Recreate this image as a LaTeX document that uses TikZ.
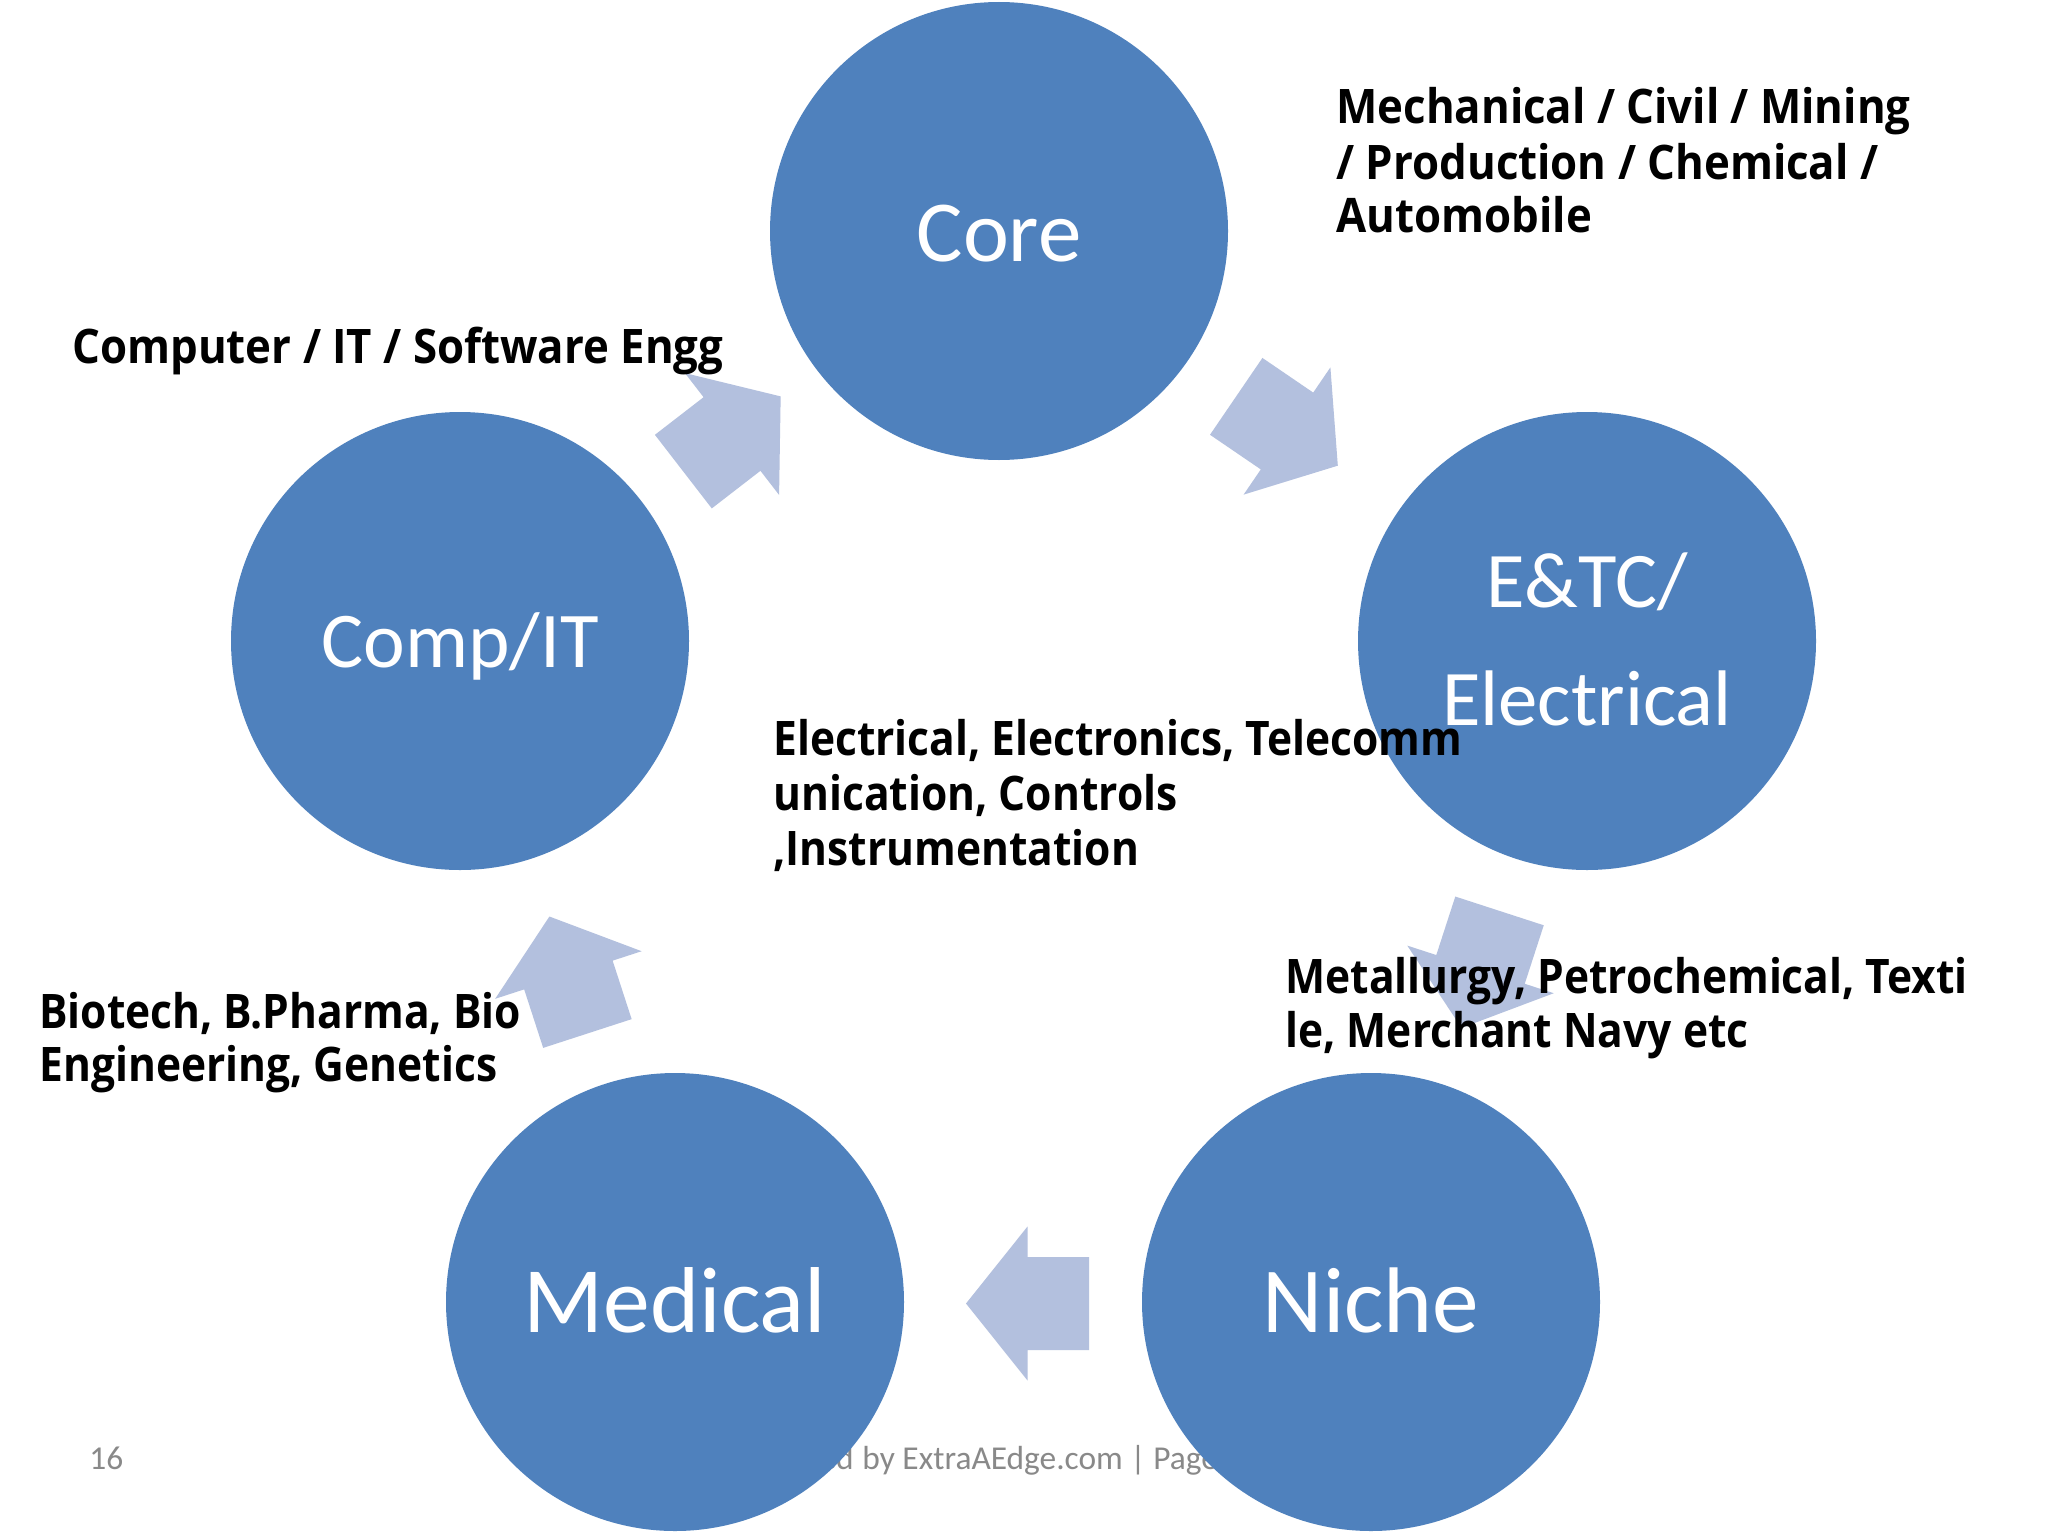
\documentclass[tikz,border=0pt]{standalone}
\usepackage{fontspec}
\setmainfont{Carlito}
\newfontfamily\lblfontA[FakeStretch=0.92]{Open Sans}
\newfontfamily\lblfontB[FakeStretch=0.893]{Open Sans}
\definecolor{hubblue}{HTML}{4F81BD}
\definecolor{arrowblue}{HTML}{B3C0DE}
\definecolor{footgray}{HTML}{898989}
\tikzset{
  hub/.style={circle,fill=hubblue,draw=none,minimum size=229pt,inner sep=0pt},
  hubtext/.style={text=white,inner sep=0pt,anchor=base,font=\fontsize{#1}{#1}\selectfont},
  desc/.style={inner sep=0pt,anchor=base west,text=black,font=\lblfontA\bfseries\fontsize{23.8}{28}\selectfont},
  descn/.style={inner sep=0pt,anchor=base west,text=black,font=\lblfontB\bfseries\fontsize{23.8}{28}\selectfont},
  foot/.style={inner sep=0pt,anchor=base west,text=footgray,font=\fontsize{16.7}{20}\selectfont},
  cyclearrow/.pic={\fill[arrowblue] (-61.5,-46.5) -- (0,-46.5) -- (0,-77) -- (61.5,0) -- (0,77) -- (0,46.5) -- (-61.5,46.5) -- cycle;}
}
\begin{document}
\begin{tikzpicture}[x=0.5pt,y=-0.5pt]
\fill[white] (0,0) rectangle (2048,1536);
\useasboundingbox (0,0) rectangle (2048,1536);
% footer (partly hidden)
\node[foot] (pagenum) at (89,1469) {16};
\node[foot,anchor=base east] (footpre) at (854,1469) {Powered};
\node[foot] (footer) at (862,1469) {by ExtraAEdge.com | Page};
% circles
\node[hub] (core) at (999,231) {};
\node[hub] (etc) at (1587,641) {};
\node[hub] (niche) at (1371,1302) {};
\node[hub] (medical) at (675,1302) {};
\node[hub] (comp) at (460,641) {};
% block arrows
\pic[rotate=37.7] at (732,434) {cyclearrow};
\pic[rotate=-34.3] at (1287,431) {cyclearrow};
\pic[rotate=-108] at (1480.5,969.4) {cyclearrow};
\pic[rotate=180] at (1027.5,1303.5) {cyclearrow};
\pic[rotate=108] at (568.4,975) {cyclearrow};
% circle labels
\node[hubtext=43.5] (coretxt) at (999,261) {Core};
\node[hubtext=39.4] (etctxt1) at (1587,607) {E\&TC/};
\node[hubtext=39.4] (etctxt2) at (1587,725) {Electrical};
\node[hubtext=46.6] (nichetxt) at (1371,1332) {Niche};
\node[hubtext=46.8] (medtxt) at (675,1332) {Medical};
\node[hubtext=39.5] (comptxt) at (460,667) {Comp/IT};
% descriptions
\node[desc] (mech1) at (1336,124) {Mechanical / Civil / Mining};
\node[desc] (mech2) at (1336,179) {/ Production / Chemical /};
\node[desc] (mech3) at (1336,232) {Automobile};
\node[desc] (cs1) at (72,363) {Computer / IT / Software Engg};
\node[descn] (el1) at (773,755) {Electrical, Electronics, Telecomm};
\node[descn] (el2) at (773,810) {unication, Controls};
\node[descn] (el3) at (773,865) {,Instrumentation};
\node[descn] (met1) at (1285,993) {Metallurgy, Petrochemical, Texti};
\node[descn] (met2) at (1285,1047) {le, Merchant Navy etc};
\node[descn] (bio1) at (39,1028) {Biotech, B.Pharma, Bio};
\node[descn] (bio2) at (39,1081) {Engineering, Genetics};
\end{tikzpicture}
\end{document}
